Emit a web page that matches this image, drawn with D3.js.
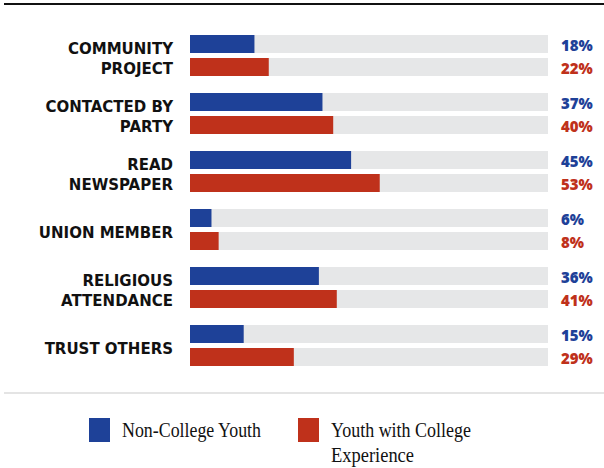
<!DOCTYPE html>
<html>
<head>
<meta charset="utf-8">
<script src="https://d3js.org/d3.v7.min.js"></script>
<style>
  body { margin: 0; background: #fff; }
  .lab { font-family: "DejaVu Sans", sans-serif; font-weight: bold; font-size: 15px; fill: #111; }
  .val { font-family: "Open Sans", sans-serif; font-weight: 800; font-size: 15px; }
  .leg { font-family: "Liberation Serif", serif; font-size: 20px; fill: #111; }
</style>
</head>
<body>
<svg id="chart" width="604" height="468"></svg>
<script>
// chart data
var categories = [["COMMUNITY", "PROJECT"], ["CONTACTED BY", "PARTY"], ["READ", "NEWSPAPER"],
                  ["UNION MEMBER"], ["RELIGIOUS", "ATTENDANCE"], ["TRUST OTHERS"]];
var nonCollege = [18, 37, 45, 6, 36, 15];
var college = [22, 40, 53, 8, 41, 29];
var seriesNames = ["Non-College Youth", "Youth with College Experience"];

var blue = "#1e4198", red = "#bf311b", grey = "#e6e7e8";

var svg = d3.select("#chart");

// top rule and bottom separator
svg.append("rect").attr("x", 4).attr("y", 3).attr("width", 600).attr("height", 2).attr("fill", "#111");
svg.append("rect").attr("x", 4).attr("y", 392).attr("width", 600).attr("height", 2).attr("fill", "#e4e4e4");

var x = d3.scaleLinear().domain([0, 100]).range([190, 548]);
var y = d3.scaleBand().domain(d3.range(categories.length)).range([35, 383]).paddingInner(0);
var barH = 18, gap = 5;

var g = svg.selectAll("g.cat").data(categories).enter().append("g")
  .attr("transform", function(d, i) { return "translate(0," + y(i) + ")"; });

[nonCollege, college].forEach(function(vals, s) {
  var top = s * (barH + gap);
  g.append("rect").attr("x", x(0)).attr("y", top).attr("height", barH)
    .attr("width", x(100) - x(0)).attr("fill", grey);
  g.append("rect").attr("x", x(0)).attr("y", top).attr("height", barH)
    .attr("width", function(d, i) { return x(vals[i]) - x(0); })
    .attr("fill", s ? red : blue);
  g.append("text").attr("class", "val").attr("x", 561).attr("y", top + 15.5)
    .attr("fill", s ? red : blue)
    .text(function(d, i) { return vals[i] + "%"; });
});

// category labels
g.each(function(lines) {
  var mid = (2 * barH + gap) / 2;
  var t = d3.select(this).append("text").attr("class", "lab").attr("text-anchor", "end");
  lines.forEach(function(line, k) {
    t.append("tspan").attr("x", 173)
      .attr("y", mid + 8 + (k - (lines.length - 1) / 2) * 20)
      .text(line);
  });
});

// legend
var legend = [{ name: [seriesNames[0]], w: [139], color: blue, x: 89 },
              { name: ["Youth with College", "Experience"], w: [140, 83], color: red, x: 298 }];
legend.forEach(function(l) {
  svg.append("rect").attr("x", l.x).attr("y", 418).attr("width", 21).attr("height", 24).attr("fill", l.color);
  l.name.forEach(function(line, k) {
    svg.append("text").attr("class", "leg").attr("x", l.x + 33).attr("y", 437 + k * 25)
      .attr("textLength", l.w[k]).attr("lengthAdjust", "spacingAndGlyphs").text(line);
  });
});
</script>
</body>
</html>
